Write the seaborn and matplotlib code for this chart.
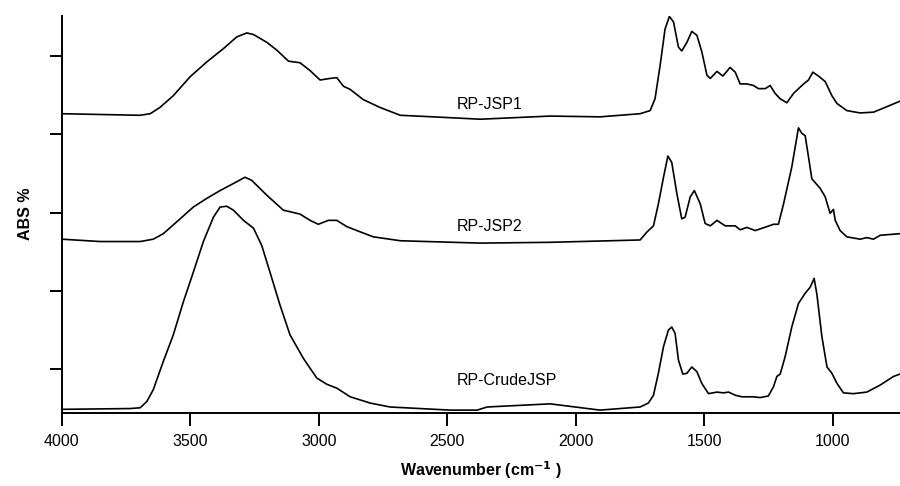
import matplotlib
matplotlib.use("Agg")
import matplotlib.pyplot as plt
import seaborn as sns
import pandas as pd

# Spectra (wavenumber in cm-1, stacked absorbance, a.u.)
wn_jsp1 = [4000, 3695, 3656, 3618, 3566, 3501, 3436, 3371, 3319, 3280, 3254, 3202,
           3163, 3118, 3073, 3034, 2995, 2956, 2930, 2904, 2878, 2827, 2762, 2683,
           2555, 2372, 2100, 1906, 1750, 1711, 1692, 1672, 1653, 1636, 1620, 1601,
           1588, 1568, 1549, 1529, 1510, 1490, 1477, 1451, 1428, 1400, 1380, 1361,
           1335, 1309, 1290, 1263, 1244, 1225, 1205, 1179, 1153, 1114, 1095, 1078,
           1056, 1030, 1004, 984, 946, 894, 842, 790, 739]
abs_jsp1 = [4.26, 4.24, 4.26, 4.34, 4.49, 4.73, 4.92, 5.09, 5.24, 5.29, 5.27, 5.17,
            5.07, 4.93, 4.91, 4.81, 4.69, 4.71, 4.72, 4.61, 4.57, 4.44, 4.34, 4.24,
            4.22, 4.19, 4.23, 4.22, 4.26, 4.30, 4.45, 4.88, 5.34, 5.50, 5.43, 5.11,
            5.06, 5.17, 5.31, 5.26, 5.05, 4.75, 4.71, 4.80, 4.74, 4.85, 4.79, 4.64,
            4.64, 4.62, 4.58, 4.58, 4.62, 4.52, 4.45, 4.40, 4.52, 4.64, 4.69, 4.79,
            4.74, 4.67, 4.49, 4.39, 4.30, 4.27, 4.28, 4.35, 4.42]

wn_jsp2 = [4000, 3851, 3695, 3644, 3605, 3553, 3488, 3436, 3384, 3332, 3287, 3261,
           3202, 3138, 3073, 3034, 3002, 2963, 2930, 2891, 2852, 2788, 2683, 2372,
           2100, 1750, 1724, 1698, 1679, 1659, 1642, 1627, 1607, 1588, 1575, 1555,
           1539, 1516, 1497, 1477, 1451, 1419, 1380, 1361, 1335, 1302, 1257, 1231,
           1212, 1192, 1160, 1134, 1121, 1108, 1095, 1082, 1050, 1030, 1011, 998,
           991, 972, 946, 894, 868, 842, 816, 739]
abs_jsp2 = [2.66, 2.63, 2.63, 2.66, 2.73, 2.88, 3.07, 3.18, 3.28, 3.37, 3.45, 3.41,
            3.22, 3.03, 2.98, 2.90, 2.85, 2.90, 2.90, 2.82, 2.77, 2.69, 2.64, 2.61,
            2.62, 2.65, 2.75, 2.83, 3.11, 3.45, 3.72, 3.64, 3.24, 2.92, 2.94, 3.20,
            3.28, 3.11, 2.86, 2.83, 2.90, 2.83, 2.83, 2.78, 2.81, 2.77, 2.82, 2.85,
            2.85, 3.11, 3.58, 4.08, 4.01, 3.98, 3.71, 3.43, 3.31, 3.20, 2.99, 3.04,
            2.90, 2.77, 2.69, 2.66, 2.68, 2.66, 2.71, 2.73]

wn_crude = [4000, 3734, 3695, 3669, 3644, 3605, 3566, 3527, 3488, 3449, 3410, 3384,
            3358, 3332, 3293, 3254, 3222, 3190, 3151, 3112, 3060, 3008, 2969, 2930,
            2878, 2800, 2723, 2489, 2384, 2345, 2100, 1906, 1750, 1718, 1698, 1679,
            1659, 1640, 1627, 1614, 1601, 1584, 1568, 1549, 1529, 1510, 1484, 1451,
            1426, 1406, 1380, 1354, 1309, 1283, 1251, 1231, 1218, 1205, 1186, 1160,
            1134, 1108, 1088, 1073, 1062, 1043, 1023, 1004, 984, 959, 920, 868,
            816, 764, 739]
abs_crude = [0.49, 0.50, 0.51, 0.59, 0.74, 1.10, 1.44, 1.86, 2.24, 2.63, 2.94, 3.07,
             3.08, 3.03, 2.90, 2.80, 2.58, 2.24, 1.82, 1.44, 1.14, 0.89, 0.81, 0.76,
             0.65, 0.57, 0.52, 0.48, 0.48, 0.52, 0.56, 0.48, 0.52, 0.57, 0.67, 0.95,
             1.29, 1.50, 1.54, 1.46, 1.12, 0.94, 0.95, 1.03, 0.97, 0.82, 0.69, 0.71,
             0.70, 0.71, 0.67, 0.65, 0.65, 0.64, 0.66, 0.78, 0.91, 0.94, 1.16, 1.54,
             1.84, 1.97, 2.05, 2.16, 1.95, 1.42, 1.03, 0.95, 0.82, 0.70, 0.69, 0.71,
             0.80, 0.91, 0.94]

sample_names = ['RP-JSP1', 'RP-JSP2', 'RP-CrudeJSP']
label_y = [4.38, 2.82, 0.86]

df = pd.concat([
    pd.DataFrame({'wn': wn_jsp1, 'abs': abs_jsp1, 'sample': 'RP-JSP1'}),
    pd.DataFrame({'wn': wn_jsp2, 'abs': abs_jsp2, 'sample': 'RP-JSP2'}),
    pd.DataFrame({'wn': wn_crude, 'abs': abs_crude, 'sample': 'RP-CrudeJSP'}),
])

sns.set_style('ticks', {'text.color': 'black', 'axes.labelcolor': 'black',
                        'xtick.color': 'black', 'ytick.color': 'black',
                        'axes.edgecolor': 'black'})
plt.rcParams['font.family'] = ['Liberation Sans', 'DejaVu Sans']

fig = plt.figure(figsize=(9, 4.86), dpi=100)
ax = fig.add_axes([0.0686, 0.1508, 0.9314, 0.8169])

sns.lineplot(data=df, x='wn', y='abs', hue='sample', units='sample',
             estimator=None, sort=False, palette=['black'] * 3,
             linewidth=1.2, legend=False, ax=ax)

for name, y in zip(sample_names, label_y):
    ax.text(2462, y, name, ha='left', va='center', fontsize=11.5, color='black')

ax.set_xlim(4000, 739)
ax.set_ylim(0.447, 5.51)
ax.set_xticks([4000, 3500, 3000, 2500, 2000, 1500, 1000])
ax.set_yticks([1, 2, 3, 4, 5])
ax.set_yticklabels([])
ax.tick_params(axis='both', direction='out', length=9, width=1.4,
               color='black', labelcolor='black', labelsize=11.5, pad=6)

sns.despine(ax=ax)
for side in ['left', 'bottom']:
    ax.spines[side].set_linewidth(1.4)
    ax.spines[side].set_color('black')

ax.set_xlabel(r'Wavenumber (cm$^{\mathbf{-1}}$ )', fontsize=11.5,
              fontweight='bold', labelpad=8)
ax.set_ylabel('ABS %', fontsize=11.5, fontweight='bold', labelpad=6)

fig.savefig('out.png', dpi=100)
